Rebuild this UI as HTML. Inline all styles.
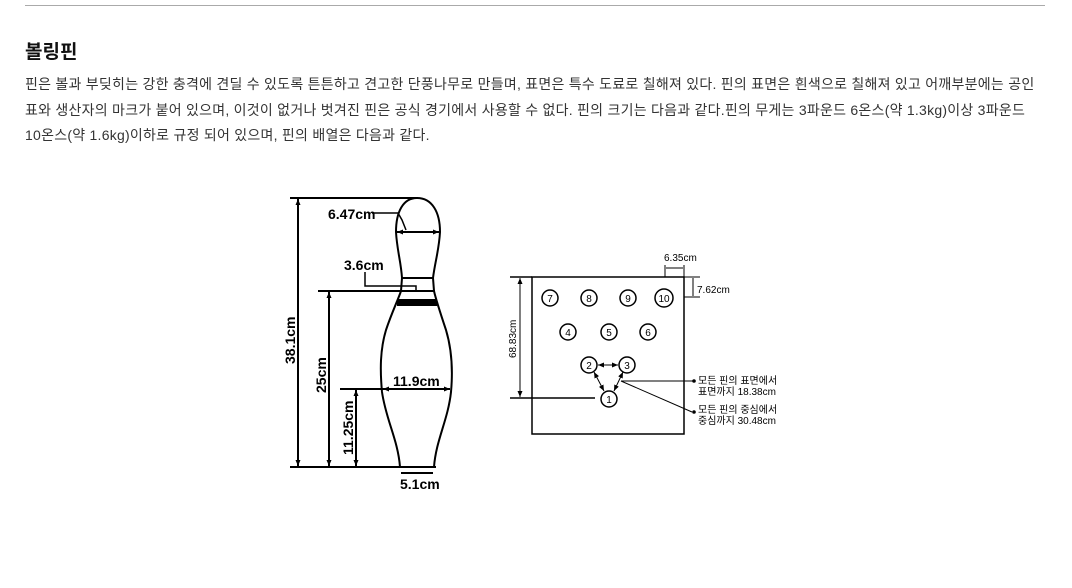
<!DOCTYPE html>
<html><head><meta charset="utf-8"><style>
body{margin:0;background:#fff;width:1072px;height:588px;overflow:hidden;font-family:"Liberation Sans","Noto Sans CJK KR",sans-serif;color:#222;}
.hr{position:absolute;left:25px;top:5px;width:1020px;height:1px;background:#aaa;}
h2{position:absolute;left:25px;top:37px;margin:0;font-size:19px;font-weight:bold;color:#111;}
p{position:absolute;left:25px;top:72px;width:1040px;margin:0;font-size:14px;letter-spacing:0.25px;line-height:25.5px;color:#333;white-space:nowrap;}
svg{position:absolute;left:0;top:0;}
</style></head><body>
<div class="hr"></div>
<h2>볼링핀</h2>
<p>핀은 볼과 부딪히는 강한 충격에 견딜 수 있도록 튼튼하고 견고한 단풍나무로 만들며, 표면은 특수 도료로 칠해져 있다. 핀의 표면은 흰색으로 칠해져 있고 어깨부분에는 공인<br>표와 생산자의 마크가 붙어 있으며, 이것이 없거나 벗겨진 핀은 공식 경기에서 사용할 수 없다. 핀의 크기는 다음과 같다.핀의 무게는 3파운드 6온스(약 1.3kg)이상 3파운드<br>10온스(약 1.6kg)이하로 규정 되어 있으며, 핀의 배열은 다음과 같다.</p>
<svg width="1072" height="588" font-family="Liberation Sans, Noto Sans CJK KR, sans-serif" font-weight="bold">
<defs><marker id="a" markerUnits="userSpaceOnUse" markerWidth="6" markerHeight="5" refX="6" refY="2.5" orient="auto-start-reverse"><path d="M0,0L6,2.5L0,5z" fill="#000"/></marker></defs>
<g stroke="#000" fill="none" stroke-width="2">
<path d="M417,198 C403,198 396,212 396,232 C397,250 401,262 402,278 L401,291 C398,300 392,312 386,330 C380,350 380,370 382,392 C386,420 398,440 400,467 L434,467 C436,440 448,420 451,392 C453,370 452,350 446,330 C440,312 436,300 434,291 L433,278 C435,262 439,250 440,232 C440,212 432,198 417,198Z"/>
<line x1="290" y1="198" x2="418" y2="198"/>
<line x1="290" y1="467" x2="436" y2="467"/>
<line x1="318" y1="291" x2="435" y2="291"/>
<line x1="340" y1="389" x2="448" y2="389"/>
<line x1="402" y1="278" x2="433" y2="278"/>
<line x1="298" y1="199" x2="298" y2="466" marker-start="url(#a)" marker-end="url(#a)"/>
<line x1="329" y1="292" x2="329" y2="466" marker-start="url(#a)" marker-end="url(#a)"/>
<line x1="356" y1="390" x2="356" y2="466" marker-start="url(#a)" marker-end="url(#a)"/>
<line x1="397" y1="232" x2="439" y2="232" marker-start="url(#a)" marker-end="url(#a)"/>
<line x1="383" y1="389" x2="450" y2="389" marker-start="url(#a)" marker-end="url(#a)"/>
<path d="M372,213 L398,213 L402,220 L406,230" stroke-width="1.5"/>
<path d="M365,272 L365,286 L416,286 L416,291" stroke-width="1.5"/>
<line x1="401" y1="473" x2="433" y2="473"/>
</g>
<rect x="397" y="299" width="40" height="7" fill="#000"/>
<g font-size="14" fill="#000">
<text x="328" y="219">6.47cm</text>
<text x="344" y="270">3.6cm</text>
<text x="393" y="386">11.9cm</text>
<text x="400" y="489">5.1cm</text>
<text transform="translate(295,364) rotate(-90)">38.1cm</text>
<text transform="translate(326,393) rotate(-90)">25cm</text>
<text transform="translate(353,455) rotate(-90)">11.25cm</text>
</g>
<g stroke="#000" fill="none" stroke-width="1.5">
<rect x="532" y="277" width="152" height="157"/>
<line x1="510" y1="277" x2="532" y2="277"/>
<line x1="510" y1="398" x2="595" y2="398"/>
<line x1="520" y1="278" x2="520" y2="397" stroke-width="1" marker-start="url(#a)" marker-end="url(#a)"/>
<line x1="665" y1="265" x2="665" y2="277" stroke-width="1"/>
<line x1="684" y1="265" x2="684" y2="277" stroke-width="1"/>
<line x1="666" y1="268" x2="683" y2="268" stroke-width="1"/>
<line x1="684" y1="277" x2="700" y2="277" stroke-width="1"/>
<line x1="684" y1="297" x2="700" y2="297" stroke-width="1"/>
<line x1="693" y1="278" x2="693" y2="296" stroke-width="1"/>
<circle cx="550" cy="298" r="8"/><circle cx="589" cy="298" r="8"/><circle cx="628" cy="298" r="8"/><circle cx="664" cy="298" r="9"/>
<circle cx="568" cy="332" r="8"/><circle cx="609" cy="332" r="8"/><circle cx="648" cy="332" r="8"/>
<circle cx="589" cy="365" r="8"/><circle cx="627" cy="365" r="8"/><circle cx="609" cy="399" r="8"/>
<g stroke-width="1">
<line x1="598" y1="365" x2="618" y2="365" marker-start="url(#a)" marker-end="url(#a)"/>
<line x1="594" y1="372" x2="604" y2="391" marker-start="url(#a)" marker-end="url(#a)"/>
<line x1="623" y1="372" x2="614" y2="391" marker-start="url(#a)" marker-end="url(#a)"/>
<line x1="621" y1="381" x2="693" y2="381"/>
<line x1="621" y1="381" x2="692" y2="412"/>
</g>
</g>
<circle cx="694" cy="381" r="1.8" fill="#000"/><circle cx="694" cy="412" r="1.8" fill="#000"/>
<g font-size="10" fill="#000" font-weight="normal" text-anchor="middle">
<text x="550" y="302">7</text><text x="589" y="302">8</text><text x="628" y="302">9</text><text x="664" y="302">10</text>
<text x="568" y="336">4</text><text x="609" y="336">5</text><text x="648" y="336">6</text>
<text x="589" y="369">2</text><text x="627" y="369">3</text><text x="609" y="403">1</text>
</g>
<g font-size="10" fill="#000" font-weight="normal">
<text x="664" y="261">6.35cm</text>
<text x="697" y="293">7.62cm</text>
<text transform="translate(516,358) rotate(-90)">68.83cm</text>
<text x="698" y="384">모든 핀의 표면에서</text>
<text x="698" y="395">표면까지 18.38cm</text>
<text x="698" y="413">모든 핀의 중심에서</text>
<text x="698" y="424">중심까지 30.48cm</text>
</g>
</svg>
</body></html>
